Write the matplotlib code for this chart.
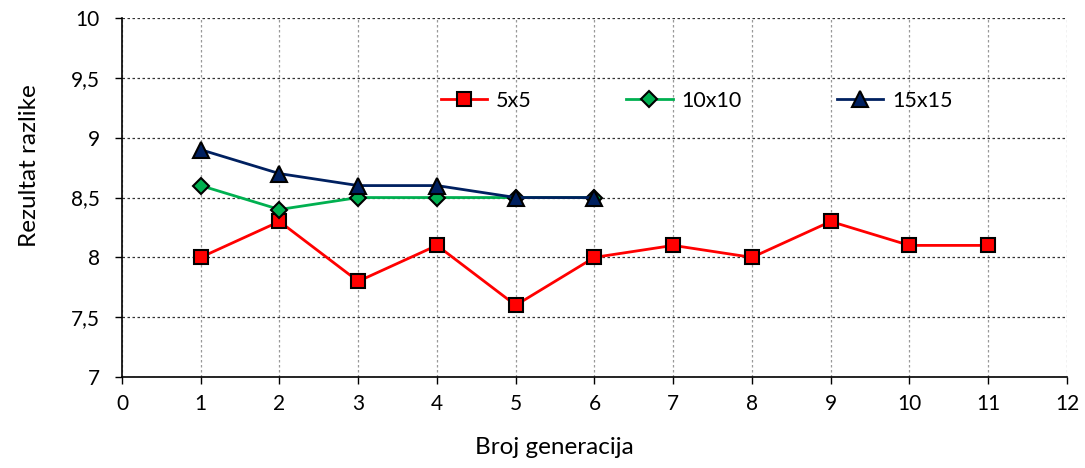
import matplotlib
matplotlib.use("Agg")
import matplotlib.pyplot as plt

plt.rcParams['font.family'] = ['Lato', 'DejaVu Sans']

gen_5 = [1, 2, 3, 4, 5, 6, 7, 8, 9, 10, 11]
val_5 = [8.0, 8.3, 7.8, 8.1, 7.6, 8.0, 8.1, 8.0, 8.3, 8.1, 8.1]
gen_10 = [1, 2, 3, 4, 5, 6]
val_10 = [8.6, 8.4, 8.5, 8.5, 8.5, 8.5]
gen_15 = [1, 2, 3, 4, 5, 6]
val_15 = [8.9, 8.7, 8.6, 8.6, 8.5, 8.5]
labels = ["5x5", "10x10", "15x15"]
yticks = [7, 7.5, 8, 8.5, 9, 9.5, 10]
ytick_labels = ["7", "7,5", "8", "8,5", "9", "9,5", "10"]
xticks = list(range(0, 13))

fig = plt.figure(figsize=(10.85, 4.68), dpi=100)
ax = fig.add_axes([0.1124, 0.1944, 0.871, 0.767])

ax.plot(gen_5, val_5, color='#ff0000', lw=2, marker='s', ms=10, mfc='#ff0000', mec='black', mew=1.5, label=labels[0], zorder=3)
ax.plot(gen_10, val_10, color='#00b050', lw=2, marker='D', ms=8.5, mfc='#00b050', mec='black', mew=1.5, label=labels[1], zorder=4)
ax.plot(gen_15, val_15, color='#002060', lw=2, marker='^', ms=11, mfc='#002060', mec='black', mew=1.5, label=labels[2], zorder=5)

ax.set_xlim(0, 12)
ax.set_ylim(7, 10)
ax.set_xticks(xticks)
ax.set_yticks(yticks)
ax.set_yticklabels(ytick_labels)
ax.tick_params(labelsize=15, direction='out', length=5, width=1)
ax.tick_params(axis='x', pad=7)
ax.tick_params(axis='y', pad=11)
for s in ['top', 'right']:
    ax.spines[s].set_visible(False)
for s in ['left', 'bottom']:
    ax.spines[s].set_linewidth(1.2)

ax.yaxis.grid(True, linestyle=(0, (2, 2)), color='#333333', lw=0.9)
ax.xaxis.grid(True, linestyle=(0, (2, 2)), color='#999999', lw=0.9)
ax.set_axisbelow(True)

ax.set_xlabel("Broj generacija", fontsize=17.5)
ax.xaxis.set_label_coords(0.458, -0.168)
ax.set_ylabel("Rezultat razlike", fontsize=17.5)
ax.yaxis.set_label_coords(-0.0868, 0.588)

leg = ax.legend(loc='center left', bbox_to_anchor=(0.328, 0.769), ncol=3, frameon=False,
                fontsize=15.5, handlelength=2.15, columnspacing=4.4, handletextpad=0.42,
                borderaxespad=0)

fig.savefig("out.png", dpi=100)
